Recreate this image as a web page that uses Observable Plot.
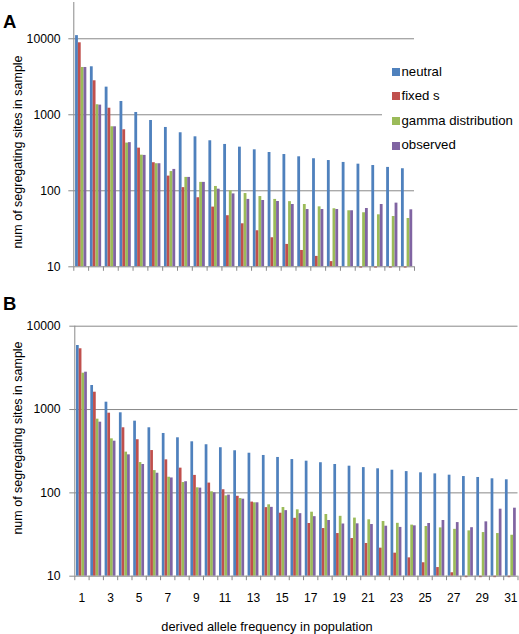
<!DOCTYPE html>
<html><head><meta charset="utf-8">
<script src="https://cdn.jsdelivr.net/npm/d3@7"></script>
<script src="https://cdn.jsdelivr.net/npm/@observablehq/plot@0.6"></script>
<style>
body{margin:0;background:#fff;}
#chart{position:relative;width:519px;height:634px;font-family:"Liberation Sans",Arial,sans-serif;color:#000;overflow:hidden;background:#fff}
#chart svg{position:absolute;left:0;overflow:visible}
.abs{position:absolute;white-space:nowrap;line-height:1}
</style></head><body><div id="chart"></div>
<script>
const seriesNames = ["neutral", "fixed s", "gamma distribution", "observed"];
const seriesColors = ["#4F81BD", "#C0504D", "#9BBB59", "#8064A2"];

// Panel A: derived allele frequency 1..23
const neutralA  = [11000, 4280, 2310, 1496, 1072, 841, 681, 580, 513, 455, 407, 375, 346, 319, 300, 280, 264, 250, 236, 224, 215, 203, 195];
const fixedA    = [8850, 2800, 1220, 635, 364, 234, 156, 110, 81, 61, 47, 36.8, 29.8, 24.1, 19.7, 16.4, 13.7, 11.7, 10, 9.6, 9.6, 9.6, 9.6];
const gammaA    = [4190, 1355, 695, 424, 294, 227, 179, 150, 129, 114, 100, 92, 84, 77, 72, 66, 61.5, 58, 54.6, 51.4, 48.3, 45.9, 43.2];
const observedA = [4190, 1340, 695, 430, 292, 227, 191, 150, 129, 105, 91, 77, 74.5, 72.3, 66, 56.7, 56.7, 56.7, 54.6, 58.5, 66, 68.8, 56.2];

// Panel B: derived allele frequency 1..31
const neutralB  = [5865, 1942, 1225, 914, 725, 604, 516, 458, 410, 378, 348, 320, 299, 281, 266, 251, 240, 230, 219, 209, 201, 194.5, 187, 180, 174, 169, 163, 157, 153, 147.5, 143.5];
const fixedB    = [5360, 1614, 904, 604, 434, 322, 249, 198, 162, 131, 109, 91, 77.5, 66.5, 57, 49.5, 42.9, 37.3, 32.5, 28.3, 24.7, 21.7, 18.9, 16.6, 14.5, 12.7, 11, 9.6, 9.6, 9.6, 9.6];
const gammaB    = [2730, 766, 445, 308, 231, 185, 154, 133, 115, 103, 92, 85.5, 76, 71.9, 66.7, 62.6, 58.6, 55, 52.3, 49.8, 47.5, 45.3, 43.1, 41, 39.5, 38, 36.5, 35, 33.4, 32.5, 31];
const observedB = [2806, 705, 417, 286, 219, 172, 151, 136, 114, 100, 94, 84, 76, 67, 61.2, 56.3, 51.8, 46.6, 42.3, 42.5, 41.7, 39.8, 38.5, 40.2, 42.9, 46.6, 44, 38.2, 44.9, 63.7, 65.5];

const yTicks = [10, 100, 1000, 10000];
const xTickLabelsB = [1, 3, 5, 7, 9, 11, 13, 15, 17, 19, 21, 23, 25, 27, 29, 31];

const yTitle = "num of segregating sites in sample";
const xTitle = "derived allele frequency in population";

const gridColor = "#898989";

function toRows(arrays) {
  const rows = [];
  arrays.forEach((arr, k) => arr.forEach((v, i) => rows.push({g: i + 1, k, series: seriesNames[k], v})));
  return rows;
}

function panel(opts) {
  const {arrays, height, marginLeft, marginRight, marginTop, marginBottom, yMax, tickPadding, xLabels} = opts;
  const n = arrays[0].length;
  const data = toRows(arrays);
  const boundaries = d3.range(0, n + 1).map(i => i + 0.5);
  const marks = [
    Plot.ruleY(yTicks.filter(t => t > 10), {stroke: gridColor, strokeWidth: 1}),
    Plot.rectY(data, {
      x1: d => d.g - 0.38 + 0.19 * d.k,
      x2: d => d.g - 0.19 + 0.19 * d.k,
      y1: 10, y2: "v", fill: "series", inset: 0
    }),
    Plot.ruleY([10], {stroke: gridColor}),
    Plot.ruleX([0.5], {stroke: gridColor}),
    Plot.axisY({ticks: yTicks, tickSize: 5, tickPadding, tickFormat: d => String(d), label: null, stroke: gridColor, fill: "#000", fontSize: 12.2}),
    Plot.axisX({ticks: boundaries, tickSize: 4.5, tickFormat: () => "", label: null, stroke: gridColor})
  ];
  if (xLabels) marks.push(Plot.axisX({ticks: xLabels, tickSize: 0, tickPadding: 17.3, tickFormat: d => String(d), label: null, fill: "#000", fontSize: 12}));
  return Plot.plot({
    width: 519, height, marginLeft, marginRight, marginTop, marginBottom,
    style: {fontFamily: "'Liberation Sans', Arial, sans-serif", color: "#000", background: "transparent", overflow: "visible"},
    x: {type: "linear", domain: [0.5, n + 0.5]},
    y: {type: "log", domain: [10, yMax]},
    color: {domain: seriesNames, range: seriesColors},
    marks
  });
}

const chart = document.getElementById("chart");

const plotA = panel({arrays: [neutralA, fixedA, gammaA, observedA], height: 300,
  marginLeft: 73.3, marginRight: 105, marginTop: 2, marginBottom: 33.7, yMax: 30000, tickPadding: 8.3});
plotA.style.top = "0px";
chart.appendChild(plotA);

const plotB = panel({arrays: [neutralB, fixedB, gammaB, observedB], height: 334,
  marginLeft: 74.3, marginRight: 1.5, marginTop: 25.7, marginBottom: 58.3, yMax: 10000, tickPadding: 9.3, xLabels: xTickLabelsB});
plotB.style.top = "300px";
chart.appendChild(plotB);

function addText(txt, css) {
  const d = document.createElement("div");
  d.className = "abs";
  d.textContent = txt;
  Object.assign(d.style, css);
  chart.appendChild(d);
  return d;
}

// panel letters
addText("A", {left: "3px", top: "12.6px", fontSize: "18.5px", fontWeight: "bold"});
addText("B", {left: "3px", top: "295.3px", fontSize: "18.5px", fontWeight: "bold"});

// y titles
const rot = {fontSize: "12.5px", transform: "translate(-50%,-50%) rotate(-90deg)"};
addText(yTitle, Object.assign({left: "17.5px", top: "151.5px"}, rot));
addText(yTitle, Object.assign({left: "17.5px", top: "438px"}, rot));

// x title
addText(xTitle, {left: "267px", top: "621.2px", fontSize: "12.8px", transform: "translateX(-50%)"});

// legend
const leg = document.createElement("div");
Object.assign(leg.style, {position: "absolute", left: "382px", top: "58px", width: "137px", height: "100px", background: "#fff"});
chart.appendChild(leg);
const baselines = [75.7, 100.3, 124.9, 149.5];
seriesNames.forEach((name, i) => {
  const sq = document.createElement("div");
  Object.assign(sq.style, {position: "absolute", left: "392.3px", top: (baselines[i] - 8) + "px", width: "8px", height: "8px", background: seriesColors[i]});
  chart.appendChild(sq);
  addText(name, {left: "401.5px", top: (baselines[i] - 0.8465 * 13.2) + "px", fontSize: "13.2px"});
});
</script></body></html>
